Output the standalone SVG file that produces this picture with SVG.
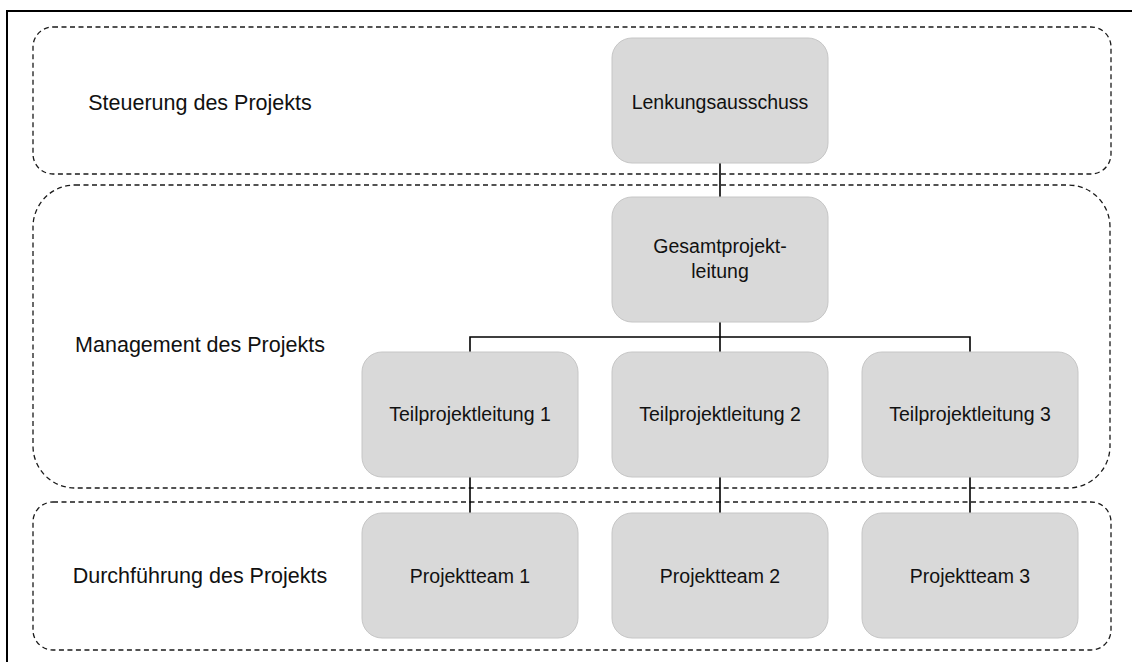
<svg xmlns="http://www.w3.org/2000/svg" width="1132" height="662" viewBox="0 0 1132 662">
  <style>
    .frame { fill: none; stroke: #000; stroke-width: 2; }
    .zone { fill: none; stroke: #1a1a1a; stroke-width: 1.3; stroke-dasharray: 5 3.5; }
    .zone-label { font-family: "Liberation Sans", Arial, sans-serif; font-size: 21.5px; fill: #111; text-anchor: middle; }
    .box { fill: #d9d9d9; stroke: #c6c6c6; stroke-width: 1; }
    .box-label { font-family: "Liberation Sans", Arial, sans-serif; font-size: 19.5px; fill: #111; text-anchor: middle; }
    .link { fill: none; stroke: #000; stroke-width: 1.6; }
  </style>
  <rect width="1132" height="662" fill="#fff"/>

  <!-- page frame (top and left edges) -->
  <path class="frame" d="M7 662 V11 H1132"/>

  <!-- organisational levels -->
  <g id="level-steuerung">
    <rect class="zone" x="33" y="27" width="1078" height="147" rx="20" ry="20"/>
    <text class="zone-label" x="200" y="110">Steuerung des Projekts</text>
  </g>
  <g id="level-management">
    <rect class="zone" x="33" y="185" width="1077" height="303" rx="42" ry="42"/>
    <text class="zone-label" x="200" y="352">Management des Projekts</text>
  </g>
  <g id="level-durchfuehrung">
    <rect class="zone" x="33" y="502" width="1078" height="148" rx="20" ry="20"/>
    <text class="zone-label" x="200" y="583">Durchführung des Projekts</text>
  </g>

  <!-- connectors -->
  <g id="connectors">
    <path class="link" d="M720 163 V197"/>
    <path class="link" d="M720 322 V352"/>
    <path class="link" d="M470 352 V337 H970 V352"/>
    <path class="link" d="M470 477 V513"/>
    <path class="link" d="M720 477 V513"/>
    <path class="link" d="M970 477 V513"/>
  </g>

  <!-- nodes -->
  <g id="node-lenkungsausschuss">
    <rect class="box" x="612" y="38" width="216" height="125" rx="20" ry="20"/>
    <text class="box-label" x="720" y="109">Lenkungsausschuss</text>
  </g>
  <g id="node-gesamtprojektleitung">
    <rect class="box" x="612" y="197" width="216" height="125" rx="20" ry="20"/>
    <text class="box-label" x="720" y="253">Gesamtprojekt-</text>
    <text class="box-label" x="720" y="278">leitung</text>
  </g>
  <g id="node-teilprojektleitung-1">
    <rect class="box" x="362" y="352" width="216" height="125" rx="20" ry="20"/>
    <text class="box-label" x="470" y="421">Teilprojektleitung 1</text>
  </g>
  <g id="node-teilprojektleitung-2">
    <rect class="box" x="612" y="352" width="216" height="125" rx="20" ry="20"/>
    <text class="box-label" x="720" y="421">Teilprojektleitung 2</text>
  </g>
  <g id="node-teilprojektleitung-3">
    <rect class="box" x="862" y="352" width="216" height="125" rx="20" ry="20"/>
    <text class="box-label" x="970" y="421">Teilprojektleitung 3</text>
  </g>
  <g id="node-projektteam-1">
    <rect class="box" x="362" y="513" width="216" height="125" rx="20" ry="20"/>
    <text class="box-label" x="470" y="583">Projektteam 1</text>
  </g>
  <g id="node-projektteam-2">
    <rect class="box" x="612" y="513" width="216" height="125" rx="20" ry="20"/>
    <text class="box-label" x="720" y="583">Projektteam 2</text>
  </g>
  <g id="node-projektteam-3">
    <rect class="box" x="862" y="513" width="216" height="125" rx="20" ry="20"/>
    <text class="box-label" x="970" y="583">Projektteam 3</text>
  </g>
</svg>
